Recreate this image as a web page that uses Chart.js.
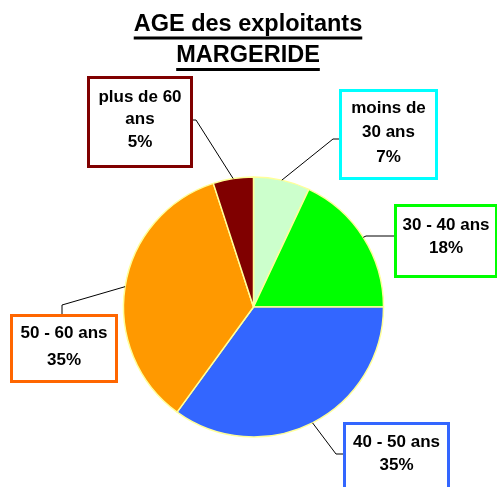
<!DOCTYPE html>
<html>
<head>
<meta charset="utf-8">
<script src="https://cdn.jsdelivr.net/npm/chart.js@4/dist/chart.umd.min.js"></script>
<style>
    html, body { margin: 0; padding: 0; background: #fff; }
    #wrap { width: 497px; height: 487px; position: relative; }
</style>
</head>
<body>
<div id="wrap"><canvas id="chart" width="497" height="487"></canvas></div>
<script>
'use strict'

const titleLines = ['AGE des exploitants', 'MARGERIDE']
const categories = ['moins de 30 ans', '30 - 40 ans', '40 - 50 ans', '50 - 60 ans', 'plus de 60 ans']
const labelLines = [['moins de', '30 ans'], ['30 - 40 ans'], ['40 - 50 ans'], ['50 - 60 ans'], ['plus de 60', 'ans']]
const percents = [7, 18, 35, 35, 5]

const sliceColors = ['#ccffcc', '#00ff00', '#3366ff', '#ff9900', '#800000']
const boxColors = ['#00ffff', '#00ff00', '#3366ff', '#ff6600', '#800000']

// label boxes: x, y, w, h, first text line y, elbow of leader, where leader meets box
const boxes = [
    {x: 339, y: 89, w: 99, h: 91, ty: 108, lh: 24.5, elbow: [333, 139], end: [339, 139]},
    {x: 394, y: 204, w: 104, h: 74, ty: 225, lh: 23, elbow: [366, 236], end: [394, 236]},
    {x: 343, y: 422, w: 107, h: 80, ty: 442, lh: 23, elbow: [336, 454], end: [343, 454]},
    {x: 10, y: 314, w: 108, h: 69, ty: 333, lh: 27, elbow: [62, 305], end: [62, 314]},
    {x: 87, y: 76, w: 106, h: 92, ty: 97, lh: 22.5, elbow: [196, 120], end: [193, 120]}
]

const FONT = '"Liberation Sans", Arial, sans-serif'

const titlePlugin = {
    id: 'titleUnderline',
    afterDraw(chart) {
        const ctx = chart.ctx
        ctx.save()
        ctx.fillStyle = '#000'
        ctx.font = 'bold 23.5px ' + FONT
        ctx.textAlign = 'center'
        ctx.textBaseline = 'middle'
        const ys = [25, 56]
        const uy = [38, 69.5]
        titleLines.forEach((t, i) => {
            ctx.fillText(t, 248, ys[i])
            let w = ctx.measureText(t).width
            ctx.fillRect(248 - w / 2, uy[i] - 1.5, w, 3)
        })
        ctx.restore()
    }
}

const labelPlugin = {
    id: 'boxLabels',
    afterDraw(chart) {
        const ctx = chart.ctx
        const arcs = chart.getDatasetMeta(0).data
        ctx.save()
        arcs.forEach((arc, i) => {
            const b = boxes[i]
            const mid = (arc.startAngle + arc.endAngle) / 2
            const px = arc.x + Math.cos(mid) * arc.outerRadius
            const py = arc.y + Math.sin(mid) * arc.outerRadius

            ctx.strokeStyle = '#000'
            ctx.lineWidth = 1
            ctx.beginPath()
            ctx.moveTo(px, py)
            ctx.lineTo(b.elbow[0], b.elbow[1])
            ctx.lineTo(b.end[0], b.end[1])
            ctx.stroke()

            ctx.fillStyle = '#fff'
            ctx.fillRect(b.x, b.y, b.w, b.h)
            ctx.strokeStyle = boxColors[i]
            ctx.lineWidth = 3
            ctx.strokeRect(b.x + 1.5, b.y + 1.5, b.w - 3, b.h - 3)

            ctx.fillStyle = '#000'
            ctx.font = 'bold 17px ' + FONT
            ctx.textAlign = 'center'
            ctx.textBaseline = 'middle'
            const lines = labelLines[i].concat([percents[i] + '%'])
            lines.forEach((t, k) => {
                ctx.fillText(t, b.x + b.w / 2, b.ty + k * b.lh)
            })
        })
        ctx.restore()
    }
}

const pieChart = new Chart(document.querySelector('#chart').getContext('2d'), {
    type: 'pie',
    data: {
        labels: categories,
        datasets: [{
            data: percents,
            backgroundColor: sliceColors,
            borderColor: '#ffff99',
            borderWidth: 1.5,
            hoverOffset: 0
        }]
    },
    options: {
        responsive: false,
        animation: false,
        radius: 130,
        layout: { padding: { left: 110, right: 100, top: 177, bottom: 50 } },
        events: [],
        plugins: {
            legend: { display: false },
            title: { display: false },
            tooltip: { enabled: false }
        }
    },
    plugins: [titlePlugin, labelPlugin]
})
</script>
</body>
</html>
